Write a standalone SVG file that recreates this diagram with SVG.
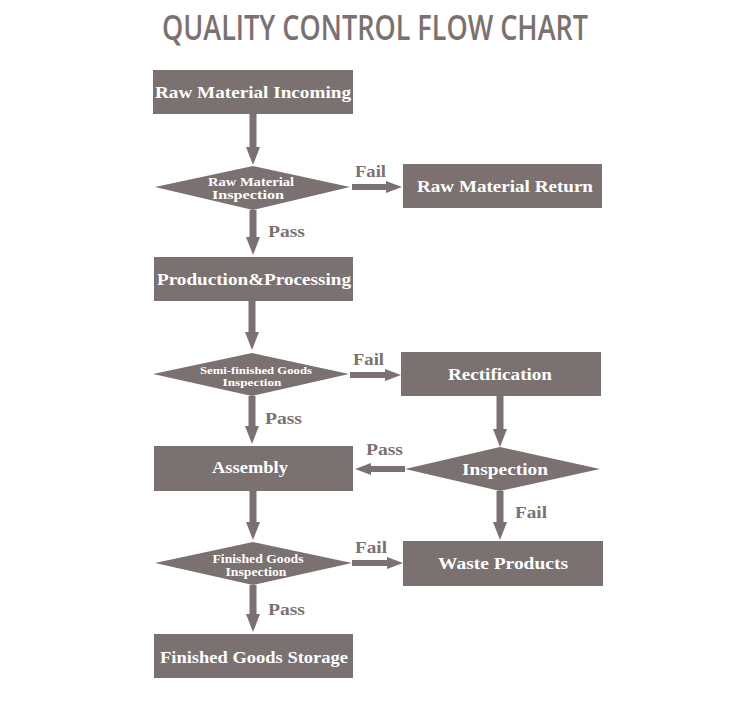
<svg xmlns="http://www.w3.org/2000/svg" width="750" height="708" viewBox="0 0 750 708">
<style>
.bg{fill:#ffffff}
.node{fill:#7b7171}
.t{font-family:"Liberation Serif",serif;font-weight:bold;fill:#ffffff;text-anchor:middle}
.tb{font-size:17px}
.td{font-size:12px}
.ts{font-size:10px}
.lbl{font-family:"Liberation Serif",serif;font-weight:bold;fill:#7b7171;font-size:16px}
.title{font-family:"Open Sans",sans-serif;font-weight:600;fill:#7b7171;font-size:34px;text-anchor:middle}
.sv{stroke:#7b7171;stroke-width:7;fill:none}
.sh{stroke:#7b7171;stroke-width:6;fill:none}
</style>
<defs>
<marker id="av" markerUnits="userSpaceOnUse" markerWidth="18" markerHeight="14" refX="0" refY="7" orient="auto"><path d="M0,0 L18,7 L0,14 z" fill="#7b7171"/></marker>
<marker id="ah" markerUnits="userSpaceOnUse" markerWidth="16" markerHeight="12" refX="0" refY="6" orient="auto"><path d="M0,0 L16,6 L0,12 z" fill="#7b7171"/></marker>
</defs>
<rect class="bg" x="0" y="0" width="750" height="708"/>
<text class="title" x="375" y="40" textLength="426" lengthAdjust="spacingAndGlyphs">QUALITY CONTROL FLOW CHART</text>

<g id="connectors">
<line class="sv" x1="253" y1="114" x2="253" y2="147" marker-end="url(#av)"/>
<line class="sh" x1="352" y1="187" x2="386" y2="187" marker-end="url(#ah)"/>
<line class="sv" x1="253" y1="210" x2="253" y2="237" marker-end="url(#av)"/>
<line class="sv" x1="252" y1="301" x2="252" y2="332" marker-end="url(#av)"/>
<line class="sh" x1="350" y1="375" x2="385" y2="375" marker-end="url(#ah)"/>
<line class="sv" x1="500" y1="396" x2="500" y2="429" marker-end="url(#av)"/>
<line class="sh" x1="405" y1="469" x2="371" y2="469" marker-end="url(#ah)"/>
<line class="sv" x1="252" y1="396" x2="252" y2="426" marker-end="url(#av)"/>
<line class="sv" x1="500" y1="491" x2="500" y2="522" marker-end="url(#av)"/>
<line class="sv" x1="253" y1="491" x2="253" y2="522" marker-end="url(#av)"/>
<line class="sh" x1="352" y1="563" x2="387" y2="563" marker-end="url(#ah)"/>
<line class="sv" x1="253" y1="585" x2="253" y2="614" marker-end="url(#av)"/>
<text class="lbl" x="355" y="177" textLength="31" lengthAdjust="spacingAndGlyphs">Fail</text>
<text class="lbl" x="268" y="237" textLength="37" lengthAdjust="spacingAndGlyphs">Pass</text>
<text class="lbl" x="353" y="365" textLength="31" lengthAdjust="spacingAndGlyphs">Fail</text>
<text class="lbl" x="366" y="455" textLength="37" lengthAdjust="spacingAndGlyphs">Pass</text>
<text class="lbl" x="265" y="424" textLength="37" lengthAdjust="spacingAndGlyphs">Pass</text>
<text class="lbl" x="515" y="518" textLength="32" lengthAdjust="spacingAndGlyphs">Fail</text>
<text class="lbl" x="355" y="553" textLength="32" lengthAdjust="spacingAndGlyphs">Fail</text>
<text class="lbl" x="268" y="615" textLength="37" lengthAdjust="spacingAndGlyphs">Pass</text>
</g>

<g id="raw-incoming"><rect class="node" x="153" y="70" width="200" height="44"/><text class="t tb" x="253" y="98" textLength="196" lengthAdjust="spacingAndGlyphs">Raw Material Incoming</text></g>
<g id="raw-inspection"><polygon class="node" points="155,187 253,166 350,187 253,210"/><text class="t td" x="251" y="186" textLength="86" lengthAdjust="spacingAndGlyphs">Raw Material</text><text class="t td" x="248" y="199" textLength="72" lengthAdjust="spacingAndGlyphs">Inspection</text></g>
<g id="raw-return"><rect class="node" x="403" y="164" width="199" height="44"/><text class="t tb" x="505" y="192" textLength="176" lengthAdjust="spacingAndGlyphs">Raw Material Return</text></g>
<g id="production"><rect class="node" x="154" y="257" width="199" height="44"/><text class="t tb" x="254" y="285" textLength="194" lengthAdjust="spacingAndGlyphs">Production&amp;Processing</text></g>
<g id="semi-inspection"><polygon class="node" points="153,374 252,353 349,374 252,396"/><text class="t ts" x="256" y="374" textLength="112" lengthAdjust="spacingAndGlyphs">Semi-finished Goods</text><text class="t ts" x="252" y="386" textLength="59" lengthAdjust="spacingAndGlyphs">Inspection</text></g>
<g id="rectification"><rect class="node" x="401" y="352" width="200" height="44"/><text class="t tb" x="500" y="380" textLength="104" lengthAdjust="spacingAndGlyphs">Rectification</text></g>
<g id="inspection"><polygon class="node" points="405,469 500,447 600,469 500,491"/><text class="t tb" x="505" y="475" textLength="86" lengthAdjust="spacingAndGlyphs">Inspection</text></g>
<g id="assembly"><rect class="node" x="154" y="446" width="199" height="45"/><text class="t tb" x="250" y="473" textLength="76" lengthAdjust="spacingAndGlyphs">Assembly</text></g>
<g id="waste"><rect class="node" x="403" y="541" width="200" height="45"/><text class="t tb" x="503" y="569" textLength="130" lengthAdjust="spacingAndGlyphs">Waste Products</text></g>
<g id="finished-inspection"><polygon class="node" points="155,563 253,542 352,563 253,585"/><text class="t td" x="258" y="563" textLength="91" lengthAdjust="spacingAndGlyphs">Finished Goods</text><text class="t td" x="256" y="576" textLength="61" lengthAdjust="spacingAndGlyphs">Inspection</text></g>
<g id="storage"><rect class="node" x="154" y="634" width="199" height="44"/><text class="t tb" x="254" y="663" textLength="188" lengthAdjust="spacingAndGlyphs">Finished Goods Storage</text></g>
</svg>
